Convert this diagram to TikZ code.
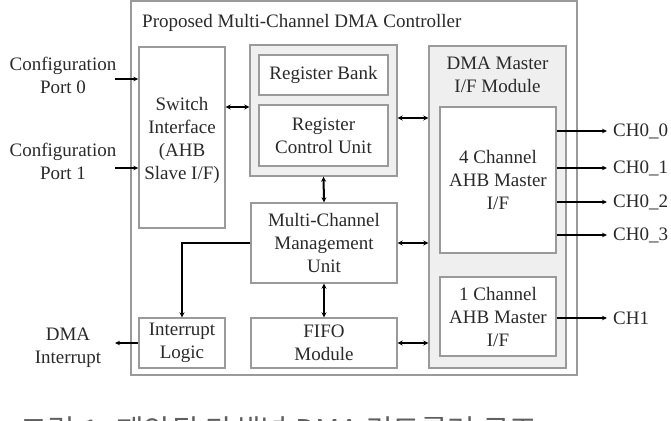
\documentclass[tikz,border=0pt]{standalone}
\usepackage{fontspec}
\setmainfont{Liberation Serif}
\newfontfamily\krfont{Noto Sans CJK KR}
\usetikzlibrary{arrows.meta}
\definecolor{bordergray}{HTML}{9A9A9A}
\definecolor{fillgray}{HTML}{EFEFEF}
\definecolor{txt}{HTML}{2A2A2A}
\begin{document}
\begin{tikzpicture}[x=1pt,y=-1pt,
  box/.style={draw=bordergray, line width=1.4pt, fill=white, inner sep=0pt, align=center, text=txt},
  grp/.style={box, fill=fillgray},
  lbl/.style={inner sep=0pt, align=center, text=txt},
  biarrow/.style={line width=2pt, {Stealth[length=5pt,width=5pt]}-{Stealth[length=5pt,width=5pt]}},
  onearrow/.style={line width=1.2pt, -{Stealth[length=5pt,width=4.5pt]}},
  font=\fontsize{19}{23}\selectfont]
\useasboundingbox (0,0) rectangle (671,420);
% outer controller
\node[box, minimum width=446pt, minimum height=374pt] (ctrl) at (354,188) {};
\node[lbl, anchor=west] (title) at (142,23) {Proposed Multi-Channel DMA Controller};
% switch interface
\node[box, minimum width=86pt, minimum height=181pt] (sw) at (182,137.5) {};
\node[lbl] (swt) at (182,140) {Switch\\Interface\\(AHB\\Slave I/F)};
% register group
\node[grp, minimum width=147pt, minimum height=131pt] (reg) at (323.5,110.5) {};
\node[box, minimum width=129pt, minimum height=40pt] (rb) at (323.5,75) {Register Bank};
\node[box, minimum width=129pt, minimum height=61pt] (rcu) at (323.5,135.5) {Register\\Control Unit};
% management, fifo, interrupt
\node[box, minimum width=146pt, minimum height=80pt] (mcmu) at (324,243) {Multi-Channel\\Management\\Unit};
\node[box, minimum width=146pt, minimum height=50pt] (fifo) at (324,343) {FIFO\\Module};
\node[box, minimum width=86pt, minimum height=50pt] (intr) at (182,343) {Interrupt\\Logic};
% DMA master module
\node[grp, minimum width=137pt, minimum height=322pt] (dmam) at (497.5,207) {};
\node[lbl] (dmat) at (497.5,75) {DMA Master\\I/F Module};
\node[box, minimum width=116pt, minimum height=146pt] (ch4) at (498,180) {4 Channel\\AHB Master\\I/F};
\node[box, minimum width=116pt, minimum height=79pt] (ch1) at (498,316.5) {1 Channel\\AHB Master\\I/F};
% external labels
\node[lbl] (cp0) at (63,75) {Configuration\\Port 0};
\node[lbl] (cp1) at (63,161) {Configuration\\Port 1};
\node[lbl] (dint) at (68,348) {DMA\\Interrupt};
\node[lbl, anchor=west] (o0) at (613,131) {CH0\_0};
\node[lbl, anchor=west] (o1) at (613,168) {CH0\_1};
\node[lbl, anchor=west] (o2) at (613,202) {CH0\_2};
\node[lbl, anchor=west] (o3) at (613,235) {CH0\_3};
\node[lbl, anchor=west] (o4) at (613,318) {CH1};
% free ends
\coordinate (cp0e) at (115,79);
\coordinate (cp1e) at (115,168);
\coordinate (dinte) at (115,343);
\coordinate (e0) at (607,131);
\coordinate (e1) at (607,168);
\coordinate (e2) at (607,202);
\coordinate (e3) at (607,235);
\coordinate (e4) at (607,318);
% single arrows
\draw[onearrow] (cp0e) -- (cp0e -| sw.west);
\draw[onearrow] (cp1e) -- (cp1e -| sw.west);
\draw[onearrow] (dinte -| intr.west) -- (dinte);
\draw[onearrow] (e0 -| ch4.east) -- (e0);
\draw[onearrow] (e1 -| ch4.east) -- (e1);
\draw[onearrow] (e2 -| ch4.east) -- (e2);
\draw[onearrow] (e3 -| ch4.east) -- (e3);
\draw[onearrow] (e4 -| ch1.east) -- (e4);
% bidirectional
\draw[biarrow] (sw.east |- 0,107) -- (reg.west |- 0,107);
\draw[biarrow] (reg.east |- 0,118) -- (dmam.west |- 0,118);
\draw[biarrow] (reg.south) -- (mcmu.north);
\draw[biarrow] (mcmu.east) -- (dmam.west |- mcmu.east);
\draw[biarrow] (mcmu.south) -- (fifo.north);
\draw[biarrow] (fifo.east) -- (dmam.west |- fifo.east);
\draw[line width=2pt, -{Stealth[length=5pt,width=5pt]}] (mcmu.west) -| (intr.north);
% caption (cut by the page edge, as in the reference)
\node[anchor=north west, inner sep=0pt, text=txt!75, font=\krfont\fontsize{30}{34}\selectfont] (cap) at (20,416) {그림 1. 제안된 다채널 DMA 컨트롤러 구조};
\end{tikzpicture}
\end{document}
